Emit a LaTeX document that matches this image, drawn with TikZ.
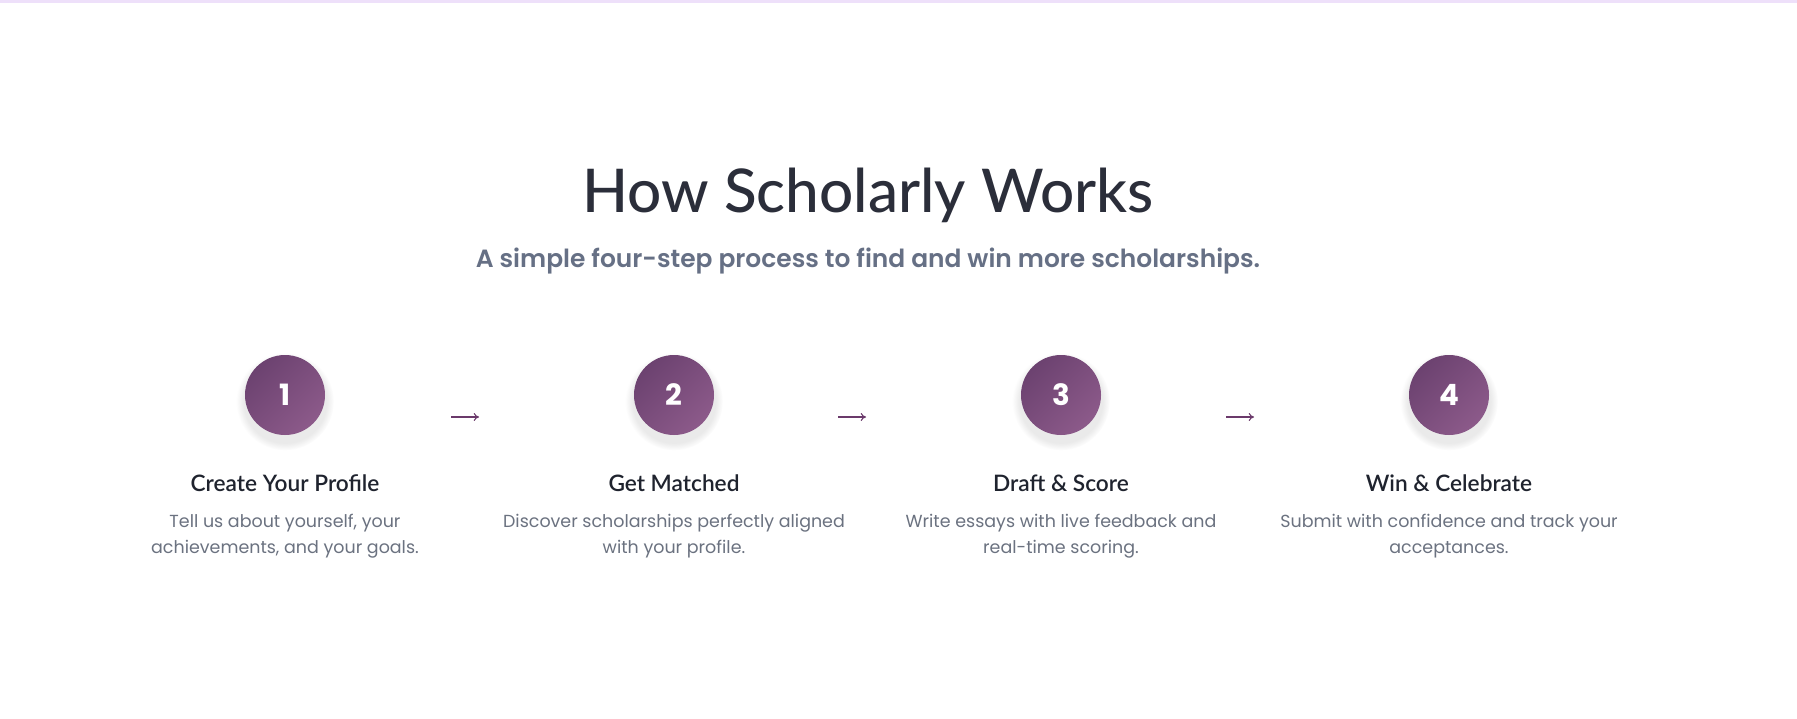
\documentclass[tikz,border=0pt]{standalone}
\usepackage{fontspec}
\setmainfont{Poppins}
\newfontfamily\headfont{Lato Medium}
\newfontfamily\headsemi{Lato Semibold}
\newfontfamily\subsemi{Poppins SemiBold}
\usetikzlibrary{shadows,arrows.meta}

\definecolor{topline}{RGB}{238,224,250}
\definecolor{titlecol}{RGB}{43,46,58}
\definecolor{subcol}{RGB}{102,112,133}
\definecolor{desccol}{RGB}{107,114,128}
\definecolor{stepcol}{RGB}{31,35,46}
\definecolor{plumdark}{RGB}{108,66,112}
\definecolor{plumlight}{RGB}{140,90,138}
\definecolor{arrowcol}{RGB}{107,58,107}

\tikzset{
  badge/.style={circle, minimum size=60pt, inner sep=0pt,
    left color=plumdark, right color=plumlight, shading angle=45,
    text=white, font=\bfseries\fontsize{22}{22}\selectfont,
    circular drop shadow={shadow xshift=0pt, shadow yshift=-4pt,
      shadow scale=1.22, opacity=0.16}},
  steptitle/.style={anchor=base, text=stepcol,
    font=\headsemi\fontsize{17}{20}\selectfont},
  stepdesc/.style={anchor=base, align=center, text=desccol,
    font=\fontsize{13.1}{19.5}\selectfont},
  steparrow/.style={draw=arrowcol, line width=0.8pt, -{To[length=4pt,width=6pt]}}
}

\begin{document}
\begin{tikzpicture}[x=0.75pt, y=-0.75pt]

\useasboundingbox (0,0) rectangle (1797,718);
\fill[white] (0,0) rectangle (1797,718);
\fill[topline] (0,0) rectangle (1797,3);

\node[anchor=base, text=titlecol, font=\headfont\fontsize{45.2}{50}\selectfont] (title) at (868,212) {How Scholarly Works};
\node[anchor=base, text=subcol, font=\subsemi\fontsize{18.7}{22}\selectfont] (subtitle) at (868,267) {A simple four-step process to find and win more scholarships.};

% step badges
\node[badge] (one) at (285,395) {1};
\node[badge] (two) at (674,395) {2};
\node[badge] (three) at (1061,395) {3};
\node[badge] (four) at (1449,395) {4};

% arrows between steps
\coordinate (arrAs) at (451,417);
\coordinate (arrAe) at (479,417);
\coordinate (arrBs) at (838,417);
\coordinate (arrBe) at (866,417);
\coordinate (arrCs) at (1226,417);
\coordinate (arrCe) at (1254,417);
\draw[steparrow] (arrAs) -- (arrAe);
\draw[steparrow] (arrBs) -- (arrBe);
\draw[steparrow] (arrCs) -- (arrCe);

% titles
\node[steptitle] (oneTitle) at (285,491) {Create Your Profile};
\node[steptitle] (twoTitle) at (674,491) {Get Matched};
\node[steptitle] (threeTitle) at (1061,491) {Draft \& Score};
\node[steptitle] (fourTitle) at (1449,491) {Win \& Celebrate};

% descriptions (base = last line)
\node[stepdesc] (oneDesc) at (285,553.5) {Tell us about yourself, your\\achievements, and your goals.};
\node[stepdesc] (twoDesc) at (674,553.5) {Discover scholarships perfectly aligned\\with your profile.};
\node[stepdesc] (threeDesc) at (1061,553.5) {Write essays with live feedback and\\real-time scoring.};
\node[stepdesc] (fourDesc) at (1449,553.5) {Submit with confidence and track your\\acceptances.};

\end{tikzpicture}
\end{document}
